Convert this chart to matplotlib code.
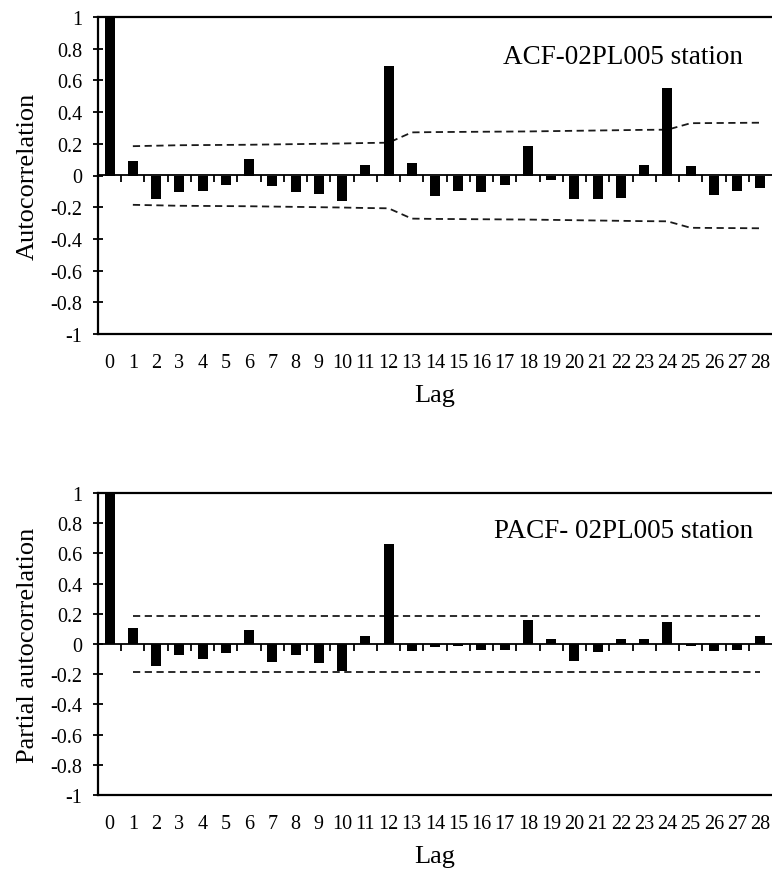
import numpy as np
import matplotlib
matplotlib.use('Agg')
import matplotlib.pyplot as plt

plt.rcParams['font.family'] = ['Liberation Serif', 'DejaVu Serif']

lags = list(range(29))

acf = [1.0, 0.092, -0.147, -0.105, -0.099, -0.059, 0.107, -0.067, -0.105, -0.116,
       -0.162, 0.069, 0.689, 0.076, -0.130, -0.099, -0.107, -0.059, 0.183, -0.027,
       -0.147, -0.149, -0.141, 0.069, 0.553, 0.059, -0.124, -0.099, -0.082]
# Bartlett bands for lags 1..28
acf_band = [0.185, 0.188, 0.191, 0.192, 0.193, 0.194, 0.196, 0.198, 0.200, 0.202,
            0.205, 0.207, 0.272, 0.274, 0.275, 0.276, 0.277, 0.278, 0.280, 0.282,
            0.284, 0.286, 0.288, 0.289, 0.330, 0.331, 0.332, 0.333]

pacf = [1.0, 0.103, -0.149, -0.072, -0.099, -0.057, 0.094, -0.116, -0.072, -0.123,
        -0.182, 0.053, 0.660, -0.046, -0.022, -0.011, -0.039, -0.037, 0.162, 0.035,
        -0.114, -0.055, 0.035, 0.035, 0.145, -0.011, -0.048, -0.037, 0.053]
pacf_band = [0.186] * 28

yticks = [1, 0.8, 0.6, 0.4, 0.2, 0, -0.2, -0.4, -0.6, -0.8, -1]
ytick_labels = ['1', '0.8', '0.6', '0.4', '0.2', '0', '-0.2', '-0.4', '-0.6', '-0.8', '-1']


def draw_panel(ax, values, band, ylabel, note, note_xy):
    ax.bar(lags, values, width=0.43, color='black', zorder=3)
    band_lags = lags[1:]
    ax.plot(band_lags, band, color='#1a1a1a', lw=1.3, ls=(0, (4, 2.5)), zorder=2)
    ax.plot(band_lags, [-b for b in band], color='#1a1a1a', lw=1.3, ls=(0, (4, 2.5)), zorder=2)

    ax.set_xlim(-0.5, 28.5)
    ax.set_ylim(-1, 1)
    ax.set_yticks(yticks)
    ax.set_yticklabels(ytick_labels)
    ax.set_xticks(lags)
    ax.set_xticklabels([str(l) for l in lags])
    ax.tick_params(axis='x', length=0, pad=14, labelsize=14.5)
    ax.tick_params(axis='y', direction='inout', length=7, width=1.3, labelsize=14.5, pad=8)
    for s in ['top', 'bottom', 'left']:
        ax.spines[s].set_linewidth(1.6)
    ax.spines['right'].set_visible(False)

    # zero line with small tick marks between lags
    zero = ax.secondary_xaxis(0.5)
    zero.set_xticks(np.arange(0.5, 28, 1.0))
    zero.set_xticklabels([])
    zero.tick_params(axis='x', direction='in', length=5, width=1.3,
                     labeltop=False, labelbottom=False)
    for s in ['top', 'bottom']:
        zero.spines[s].set_linewidth(1.3)

    ax.set_ylabel(ylabel, fontsize=19, labelpad=8)
    ax.set_xlabel('Lag', fontsize=19, labelpad=8)
    ax.text(note_xy[0], note_xy[1], note, transform=ax.transAxes,
            ha='right', va='center', fontsize=19.5, zorder=4)


fig = plt.figure(figsize=(7.72, 8.70), dpi=100)
ax1 = fig.add_axes([98 / 772, 1 - 335 / 870, 1 - 98 / 772, 317 / 870])
ax2 = fig.add_axes([98 / 772, 1 - 796 / 870, 1 - 98 / 772, 302 / 870])

draw_panel(ax1, acf, acf_band, 'Autocorrelation', 'ACF-02PL005 station', (0.957, 0.874))
draw_panel(ax2, pacf, pacf_band, 'Partial autocorrelation', 'PACF- 02PL005 station', (0.972, 0.877))

fig.savefig('out.png', dpi=100)
